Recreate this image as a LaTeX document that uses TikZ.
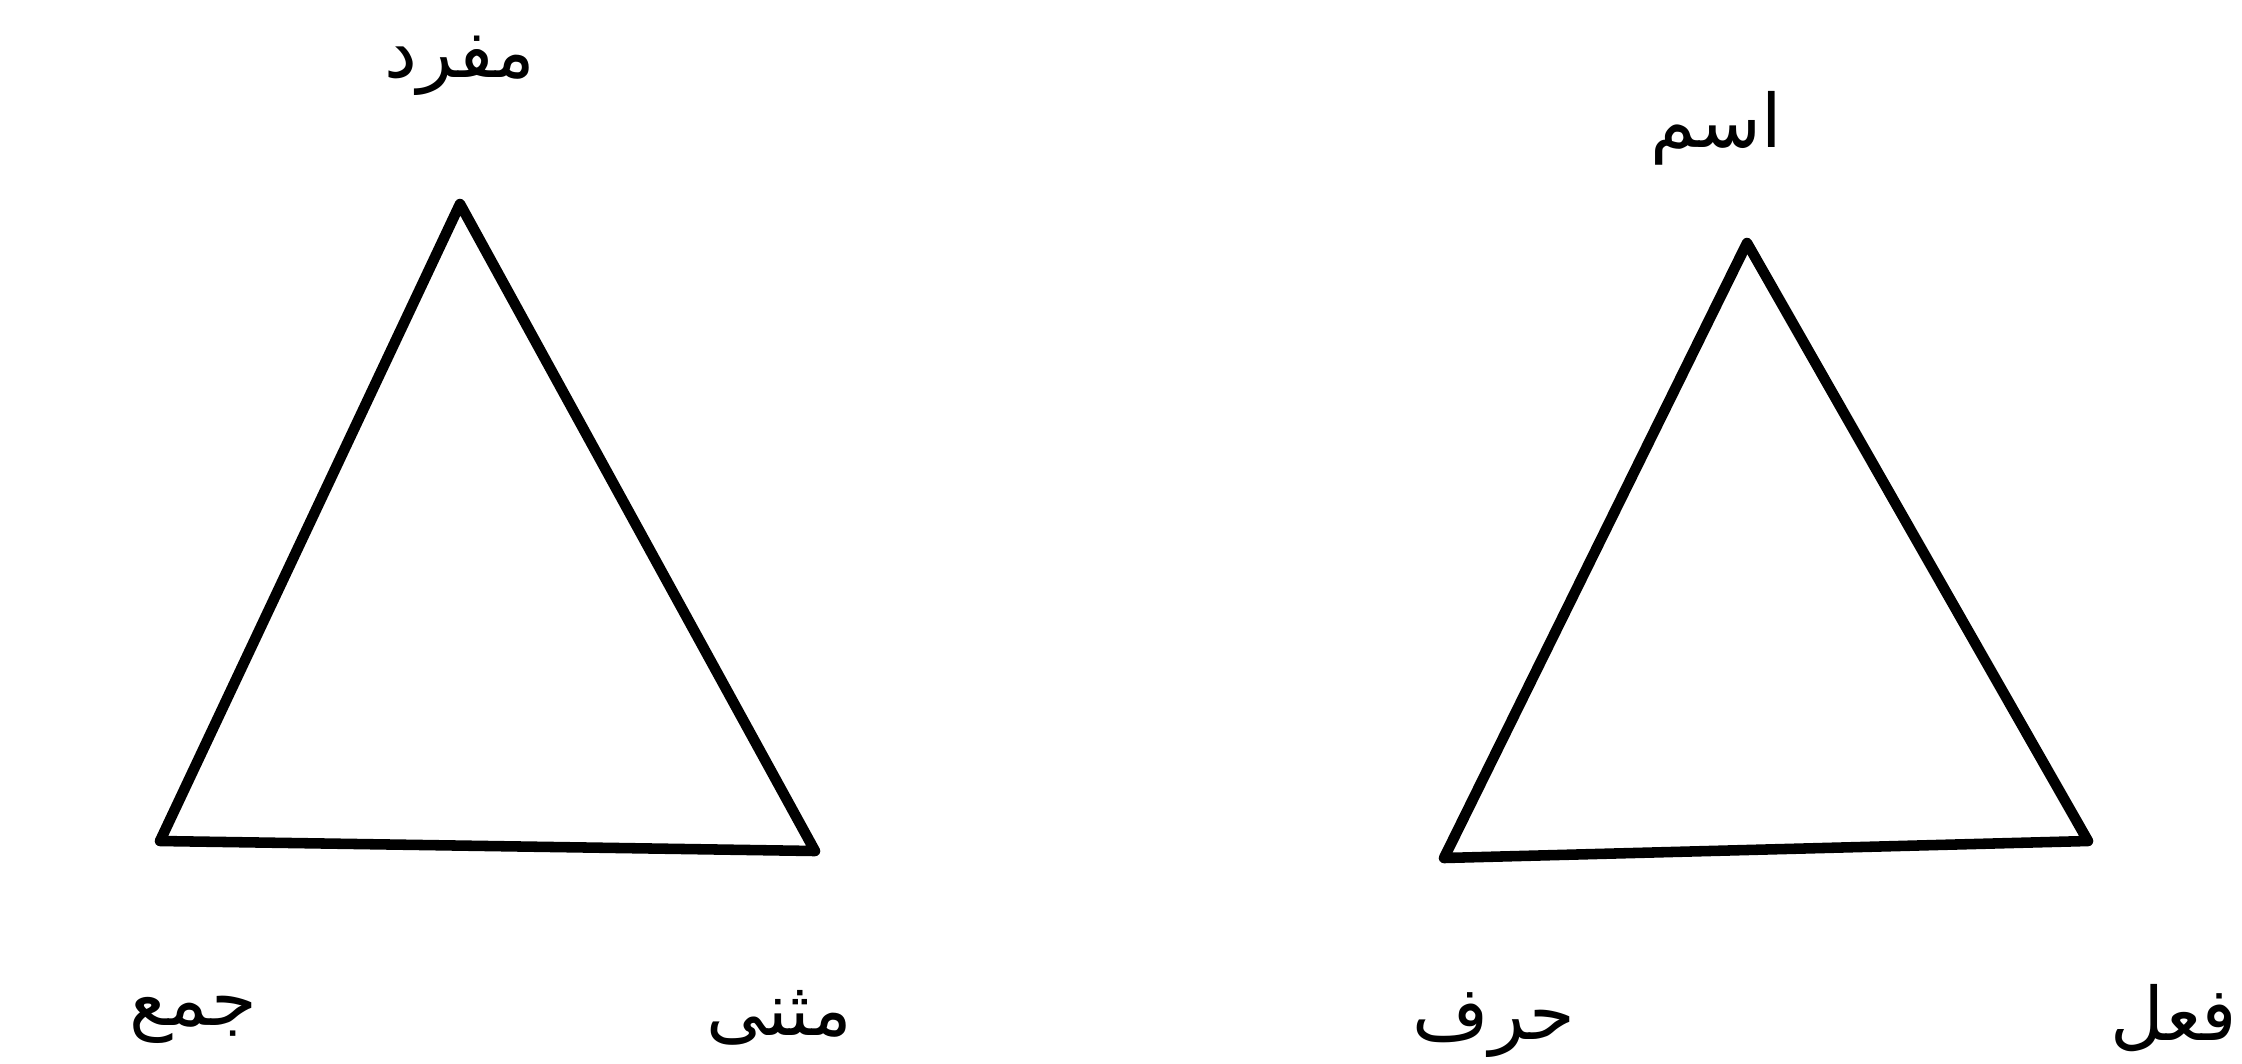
\documentclass[tikz,border=0pt]{standalone}
\usepackage{fontspec}
\TeXXeTstate=1
\newfontfamily\arabicfont[Script=Arabic]{DejaVu Sans}
\begin{document}
\begin{tikzpicture}[x=0.01cm,y=-0.01cm,
  edge/.style={line width=3pt, line join=round, line cap=round},
  lbl/.style={font=\arabicfont\fontsize{21}{25}\selectfont, inner sep=0pt}]
\useasboundingbox (0,0) rectangle (2242,1063);
% left triangle
\coordinate (LA) at (460,204);
\coordinate (LB) at (160,841);
\coordinate (LC) at (815,851);
\draw[edge] (LA) -- (LC) -- (LB) -- cycle;
\node[lbl] (mufrad) at (460,66) {\beginR مفرد\endR};
\node[lbl] (jam) at (193,1020) {\beginR جمع\endR};
\node[lbl] (muthanna) at (779,1018) {\beginR مثنى\endR};
% right triangle
\coordinate (RA) at (1747,243);
\coordinate (RB) at (1444,858);
\coordinate (RC) at (2088,841);
\draw[edge] (RA) -- (RC) -- (RB) -- cycle;
\node[lbl] (ism) at (1716,128) {\beginR اسم\endR};
\node[lbl] (harf) at (1494,1025) {\beginR حرف\endR};
\node[lbl, anchor=east] (fil) at (2238,1018) {\beginR فعل\endR};
\end{tikzpicture}
\end{document}
